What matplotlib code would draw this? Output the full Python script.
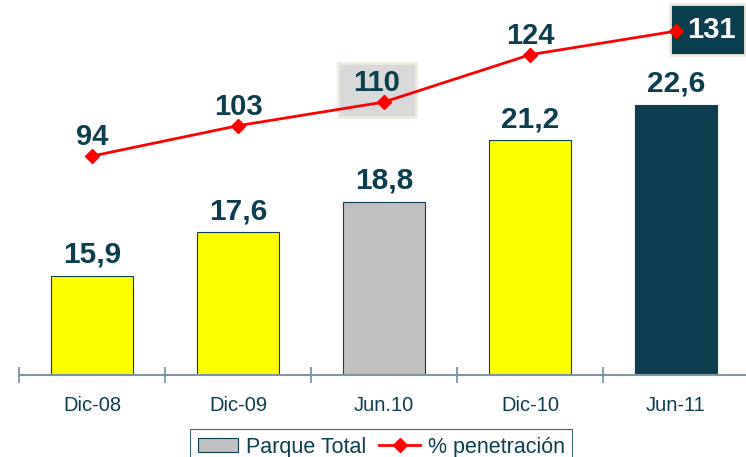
import numpy as np
import matplotlib.pyplot as plt
from matplotlib.lines import Line2D
from matplotlib.patches import Patch, Rectangle

plt.rcParams['font.family'] = ['Liberation Sans', 'DejaVu Sans']

# datos
periodos = ['Dic-08', 'Dic-09', 'Jun.10', 'Dic-10', 'Jun-11']
parque = [15.9, 17.6, 18.8, 21.2, 22.6]
penetracion = [94, 103, 110, 124, 131]

azul = '#0B3F50'
colores = ['#FFFF00', '#FFFF00', '#C0C0C0', '#FFFF00', azul]

fig = plt.figure(figsize=(7.46, 4.57), dpi=100)
ax = fig.add_axes([19 / 746, 82 / 457, 730 / 746, 375 / 457])
x = np.arange(len(periodos))

ax.bar(x, parque, width=0.555, color=colores, edgecolor=azul, linewidth=0.8)
ax.set_ylim(12, 26.7)
ax.set_xlim(-0.5, 4.5)
for i, v in enumerate(parque):
    ax.text(i, v + 0.5, f'{v:.1f}'.replace('.', ','), ha='center', va='baseline',
            fontsize=21.5, fontweight='bold', color=azul)

# eje
for s in ['top', 'right', 'left']:
    ax.spines[s].set_visible(False)
ax.spines['bottom'].set_color('#7F97A0')
ax.spines['bottom'].set_linewidth(1.5)
ax.set_yticks([])
ax.set_xticks(np.arange(-0.5, 4.5, 1))
ax.set_xticks(x, minor=True)
ax.set_xticklabels([])
ax.set_xticklabels(periodos, minor=True, fontsize=14.5, color=azul)
ax.tick_params(axis='x', which='major', direction='inout', length=12, width=1.3, color='#7F97A0')
ax.tick_params(axis='x', which='minor', length=0, pad=15)

# linea de penetracion
ax2 = ax.twinx()
ax2.set_ylim(29.2, 140.2)
ax2.axis('off')
ax2.plot(x, penetracion, color='#FF0000', linewidth=2, marker='D', markersize=7, zorder=5)
for i, v in enumerate(penetracion):
    if i == 2:
        ax2.add_patch(Rectangle((i - 0.315, v - 4.4), 0.535, 15.9, fc='#D9D9D9',
                                ec='#EEEBE0', lw=2, zorder=2))
        ax2.text(i - 0.05, v + 3.3, str(v), ha='center', va='baseline', fontsize=21,
                 fontweight='bold', color=azul, zorder=3)
    elif i == 4:
        ax2.add_patch(Rectangle((i - 0.04, v - 7.1), 0.51, 15.1, fc=azul,
                                ec='#EEEBE0', lw=2, zorder=2))
        ax2.text(i + 0.245, v + 0.3, str(v), ha='center', va='center', fontsize=21,
                 fontweight='bold', color='white', zorder=3)
    else:
        ax2.text(i, v + 3.2, str(v), ha='center', va='baseline', fontsize=21,
                 fontweight='bold', color=azul, zorder=3)

# leyenda
handles = [Patch(facecolor='#C0C0C0', edgecolor=azul, linewidth=0.8),
           Line2D([0], [0], color='#FF0000', linewidth=2, marker='D', markersize=7)]
leg = fig.legend(handles, ['Parque Total', '% penetración'], loc='upper left',
                 bbox_to_anchor=(190 / 746, 1 - 429 / 457), ncol=2, fontsize=15.5,
                 frameon=True, fancybox=False, borderpad=0.35, handlelength=1.9,
                 handleheight=0.6, handletextpad=0.35, columnspacing=0.6, borderaxespad=0)
leg.get_frame().set_edgecolor(azul)
leg.get_frame().set_linewidth(0.8)
for t in leg.get_texts():
    t.set_color(azul)

fig.savefig('out.png', dpi=100)
